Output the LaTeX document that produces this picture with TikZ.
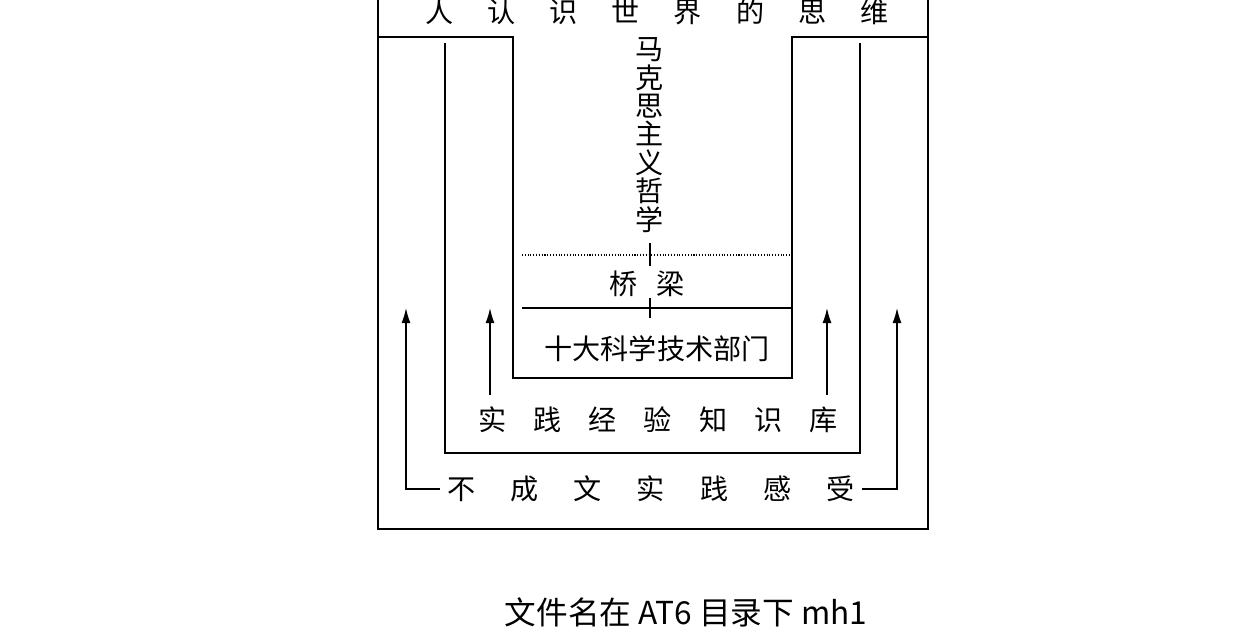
\documentclass[tikz,border=0pt]{standalone}
\usepackage{fontspec}
\setmainfont{Noto Sans CJK SC}
\usetikzlibrary{arrows.meta, positioning}

\begin{document}
\begin{tikzpicture}[x=0.02cm, y=-0.02cm, >={Latex[length=3mm,width=1.8mm]},
  line width=0.8pt,
  every node/.style={font=\fontsize{16pt}{16.2pt}\selectfont, inner sep=0pt}]
\useasboundingbox (0,0) rectangle (1242,630);
% frames
\draw (378,0) -- (378,529) -- (928,529) -- (928,0);
\draw (378,37) -- (513,37) -- (513,378) -- (792,378) -- (792,37) -- (928,37);
\draw (445,43) -- (445,453) -- (860,453) -- (860,43);
% texts
\node (think) at (657,12) {人\hspace{6.8mm}认\hspace{6.8mm}识\hspace{6.8mm}世\hspace{6.8mm}界\hspace{6.8mm}的\hspace{6.8mm}思\hspace{6.8mm}维};
\node[align=center] (marx) at (650,135) {马\\克\\思\\主\\义\\哲\\学};
\node (bridge) at (647,284) {桥\hspace{3.8mm}梁};
\node (sci) at (657,349) {十大科学技术部门};
\node (exp) at (658,420) {实\hspace{5.4mm}践\hspace{5.4mm}经\hspace{5.4mm}验\hspace{5.4mm}知\hspace{5.4mm}识\hspace{5.4mm}库};
\node (feel) at (651,489) {不\hspace{7mm}成\hspace{7mm}文\hspace{7mm}实\hspace{7mm}践\hspace{7mm}感\hspace{7mm}受};
\node[font=\fontsize{18pt}{19pt}\selectfont] (caption) at (686,612) {文件名在 AT6 目录下 mh1};
% bridge lines
\draw[densely dotted, line width=0.6pt] (522,255) -- (792,255);
\draw (522,308) -- (792,308);
\draw[line width=0.6pt] (650,243) -- (650,266);
\draw[line width=0.6pt] (650,298) -- (650,318);
% arrows
\coordinate (tipA) at (406,308);
\coordinate (tipD) at (897,308);
\draw[->] ([xshift=-4pt]feel.west) -| (tipA);
\draw[->] ([xshift=4pt]feel.east) -| (tipD);
\coordinate (expA) at (490,395);
\coordinate (expB) at (827,395);
\draw[->] (expA) -- ++(0,-87);
\draw[->] (expB) -- ++(0,-87);
\end{tikzpicture}
\end{document}
